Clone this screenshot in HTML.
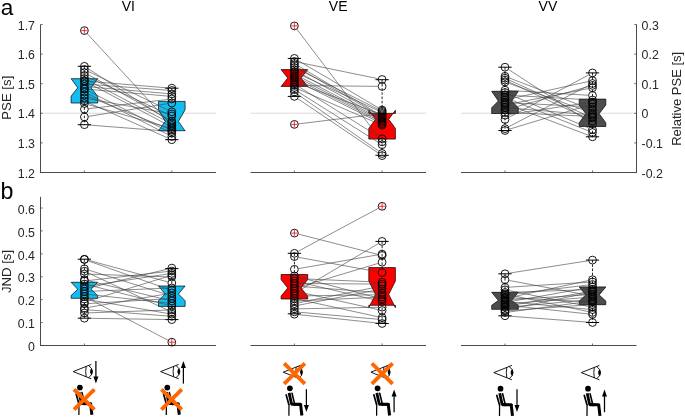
<!DOCTYPE html><html><head><meta charset="utf-8"><style>html,body{margin:0;padding:0;background:#fff;}svg{display:block;will-change:transform;}</style></head><body>
<svg width="685" height="417" viewBox="0 0 685 417" style="font-family:&quot;Liberation Sans&quot;,sans-serif">
<rect width="685" height="417" fill="#fff"/>
<line x1="40.5" y1="113.2" x2="216" y2="113.2" stroke="#dadada" stroke-width="1"/>
<line x1="250.5" y1="113.2" x2="426" y2="113.2" stroke="#dadada" stroke-width="1"/>
<line x1="461" y1="113.2" x2="636.5" y2="113.2" stroke="#dadada" stroke-width="1"/>
<line x1="40.5" y1="24.5" x2="40.5" y2="173" stroke="#4a4a4a" stroke-width="1"/><line x1="40.5" y1="172.5" x2="42.7" y2="172.5" stroke="#4a4a4a" stroke-width="0.8"/><text transform="translate(35.0,177.6) scale(0.93,1)" text-anchor="end" font-size="13.3" fill="#262626">1.2</text><line x1="40.5" y1="142.9" x2="42.7" y2="142.9" stroke="#4a4a4a" stroke-width="0.8"/><text transform="translate(35.0,148) scale(0.93,1)" text-anchor="end" font-size="13.3" fill="#262626">1.3</text><line x1="40.5" y1="113.3" x2="42.7" y2="113.3" stroke="#4a4a4a" stroke-width="0.8"/><text transform="translate(35.0,118.4) scale(0.93,1)" text-anchor="end" font-size="13.3" fill="#262626">1.4</text><line x1="40.5" y1="83.7" x2="42.7" y2="83.7" stroke="#4a4a4a" stroke-width="0.8"/><text transform="translate(35.0,88.8) scale(0.93,1)" text-anchor="end" font-size="13.3" fill="#262626">1.5</text><line x1="40.5" y1="54.1" x2="42.7" y2="54.1" stroke="#4a4a4a" stroke-width="0.8"/><text transform="translate(35.0,59.2) scale(0.93,1)" text-anchor="end" font-size="13.3" fill="#262626">1.6</text><line x1="40.5" y1="24.5" x2="42.7" y2="24.5" stroke="#4a4a4a" stroke-width="0.8"/><text transform="translate(35.0,29.6) scale(0.93,1)" text-anchor="end" font-size="13.3" fill="#262626">1.7</text><line x1="40.5" y1="172.5" x2="216" y2="172.5" stroke="#4a4a4a" stroke-width="1"/><line x1="84.4" y1="172.5" x2="84.4" y2="170.5" stroke="#4a4a4a" stroke-width="0.8"/><line x1="171.8" y1="172.5" x2="171.8" y2="170.5" stroke="#4a4a4a" stroke-width="0.8"/><line x1="250.5" y1="172.5" x2="426" y2="172.5" stroke="#4a4a4a" stroke-width="1"/><line x1="294.4" y1="172.5" x2="294.4" y2="170.5" stroke="#4a4a4a" stroke-width="0.8"/><line x1="382.1" y1="172.5" x2="382.1" y2="170.5" stroke="#4a4a4a" stroke-width="0.8"/><line x1="461" y1="172.5" x2="636.5" y2="172.5" stroke="#4a4a4a" stroke-width="1"/><line x1="505" y1="172.5" x2="505" y2="170.5" stroke="#4a4a4a" stroke-width="0.8"/><line x1="592.5" y1="172.5" x2="592.5" y2="170.5" stroke="#4a4a4a" stroke-width="0.8"/><line x1="636.5" y1="24.5" x2="636.5" y2="173" stroke="#4a4a4a" stroke-width="1"/><line x1="636.5" y1="172.5" x2="634.3" y2="172.5" stroke="#4a4a4a" stroke-width="0.8"/><text transform="translate(641.6,177.6) scale(0.93,1)" font-size="13.3" fill="#262626">-0.2</text><line x1="636.5" y1="142.9" x2="634.3" y2="142.9" stroke="#4a4a4a" stroke-width="0.8"/><text transform="translate(641.6,148) scale(0.93,1)" font-size="13.3" fill="#262626">-0.1</text><line x1="636.5" y1="113.3" x2="634.3" y2="113.3" stroke="#4a4a4a" stroke-width="0.8"/><text transform="translate(641.6,118.4) scale(0.93,1)" font-size="13.3" fill="#262626">0</text><line x1="636.5" y1="83.7" x2="634.3" y2="83.7" stroke="#4a4a4a" stroke-width="0.8"/><text transform="translate(641.6,88.8) scale(0.93,1)" font-size="13.3" fill="#262626">0.1</text><line x1="636.5" y1="54.1" x2="634.3" y2="54.1" stroke="#4a4a4a" stroke-width="0.8"/><text transform="translate(641.6,59.2) scale(0.93,1)" font-size="13.3" fill="#262626">0.2</text><line x1="636.5" y1="24.5" x2="634.3" y2="24.5" stroke="#4a4a4a" stroke-width="0.8"/><text transform="translate(641.6,29.6) scale(0.93,1)" font-size="13.3" fill="#262626">0.3</text>
<line x1="40.5" y1="196.8" x2="40.5" y2="346" stroke="#4a4a4a" stroke-width="1"/><line x1="40.5" y1="345.5" x2="42.7" y2="345.5" stroke="#4a4a4a" stroke-width="0.8"/><text transform="translate(35.0,351.2) scale(0.93,1)" text-anchor="end" font-size="13.3" fill="#262626">0</text><line x1="40.5" y1="322.58" x2="42.7" y2="322.58" stroke="#4a4a4a" stroke-width="0.8"/><text transform="translate(35.0,328.28) scale(0.93,1)" text-anchor="end" font-size="13.3" fill="#262626">0.1</text><line x1="40.5" y1="299.67" x2="42.7" y2="299.67" stroke="#4a4a4a" stroke-width="0.8"/><text transform="translate(35.0,305.37) scale(0.93,1)" text-anchor="end" font-size="13.3" fill="#262626">0.2</text><line x1="40.5" y1="276.75" x2="42.7" y2="276.75" stroke="#4a4a4a" stroke-width="0.8"/><text transform="translate(35.0,282.45) scale(0.93,1)" text-anchor="end" font-size="13.3" fill="#262626">0.3</text><line x1="40.5" y1="253.83" x2="42.7" y2="253.83" stroke="#4a4a4a" stroke-width="0.8"/><text transform="translate(35.0,259.53) scale(0.93,1)" text-anchor="end" font-size="13.3" fill="#262626">0.4</text><line x1="40.5" y1="230.92" x2="42.7" y2="230.92" stroke="#4a4a4a" stroke-width="0.8"/><text transform="translate(35.0,236.62) scale(0.93,1)" text-anchor="end" font-size="13.3" fill="#262626">0.5</text><line x1="40.5" y1="208" x2="42.7" y2="208" stroke="#4a4a4a" stroke-width="0.8"/><text transform="translate(35.0,213.7) scale(0.93,1)" text-anchor="end" font-size="13.3" fill="#262626">0.6</text><line x1="40.5" y1="345.5" x2="216" y2="345.5" stroke="#4a4a4a" stroke-width="1"/><line x1="84.4" y1="345.5" x2="84.4" y2="343.5" stroke="#4a4a4a" stroke-width="0.8"/><line x1="171.8" y1="345.5" x2="171.8" y2="343.5" stroke="#4a4a4a" stroke-width="0.8"/><line x1="250.5" y1="345.5" x2="426" y2="345.5" stroke="#4a4a4a" stroke-width="1"/><line x1="294.4" y1="345.5" x2="294.4" y2="343.5" stroke="#4a4a4a" stroke-width="0.8"/><line x1="382.1" y1="345.5" x2="382.1" y2="343.5" stroke="#4a4a4a" stroke-width="0.8"/><line x1="461" y1="345.5" x2="636.5" y2="345.5" stroke="#4a4a4a" stroke-width="1"/><line x1="505" y1="345.5" x2="505" y2="343.5" stroke="#4a4a4a" stroke-width="0.8"/><line x1="592.5" y1="345.5" x2="592.5" y2="343.5" stroke="#4a4a4a" stroke-width="0.8"/>
<polygon points="71.1,78.7 97.7,78.7 97.7,78.7 91.05,87.8 97.7,96.2 97.7,103 71.1,103 71.1,96.2 77.75,87.8 71.1,78.7" fill="#14bdf0" stroke="#000" stroke-width="0.7" stroke-linejoin="miter"/>
<polygon points="71.1,282.3 97.7,282.3 97.7,282.3 91.05,289.3 97.7,295.5 97.7,298.3 71.1,298.3 71.1,295.5 77.75,289.3 71.1,282.3" fill="#14bdf0" stroke="#000" stroke-width="0.7" stroke-linejoin="miter"/>
<polygon points="158.5,101.4 185.1,101.4 185.1,109.7 178.45,121.4 185.1,130.9 185.1,130.7 158.5,130.7 158.5,130.9 165.15,121.4 158.5,109.7" fill="#14bdf0" stroke="#000" stroke-width="0.7" stroke-linejoin="miter"/>
<polygon points="158.5,286 185.1,286 185.1,286 178.45,294 185.1,300.7 185.1,306.4 158.5,306.4 158.5,300.7 165.15,294 158.5,286" fill="#14bdf0" stroke="#000" stroke-width="0.7" stroke-linejoin="miter"/>
<polygon points="281.1,69.6 307.7,69.6 307.7,69.6 301.05,78.1 307.7,86.5 307.7,86.4 281.1,86.4 281.1,86.5 287.75,78.1 281.1,69.6" fill="#ff0000" stroke="#000" stroke-width="0.7" stroke-linejoin="miter"/>
<polygon points="281.1,274.5 307.7,274.5 307.7,279.6 301.05,288 307.7,296.1 307.7,299 281.1,299 281.1,296.1 287.75,288 281.1,279.6" fill="#ff0000" stroke="#000" stroke-width="0.7" stroke-linejoin="miter"/>
<polygon points="368.8,113.4 395.4,113.4 395.4,110.2 388.75,119.3 395.4,128.4 395.4,139.1 368.8,139.1 368.8,128.4 375.45,119.3 368.8,110.2" fill="#ff0000" stroke="#000" stroke-width="0.7" stroke-linejoin="miter"/>
<polygon points="368.8,267.6 395.4,267.6 395.4,281 388.75,294.4 395.4,307.7 395.4,305.3 368.8,305.3 368.8,307.7 375.45,294.4 368.8,281" fill="#ff0000" stroke="#000" stroke-width="0.7" stroke-linejoin="miter"/>
<polygon points="491.7,91.3 518.3,91.3 518.3,91.3 511.65,101 518.3,107.7 518.3,113.5 491.7,113.5 491.7,107.7 498.35,101 491.7,91.3" fill="#4d4d4d" stroke="#000" stroke-width="0.7" stroke-linejoin="miter"/>
<polygon points="491.7,292.3 518.3,292.3 518.3,292.3 511.65,300.5 518.3,305.3 518.3,309.3 491.7,309.3 491.7,305.3 498.35,300.5 491.7,292.3" fill="#4d4d4d" stroke="#000" stroke-width="0.7" stroke-linejoin="miter"/>
<polygon points="579.2,99.1 605.8,99.1 605.8,105 599.15,113.7 605.8,122.8 605.8,126.5 579.2,126.5 579.2,122.8 585.85,113.7 579.2,105" fill="#4d4d4d" stroke="#000" stroke-width="0.7" stroke-linejoin="miter"/>
<polygon points="579.2,286.9 605.8,286.9 605.8,287 599.15,294.9 605.8,301.1 605.8,304.7 579.2,304.7 579.2,301.1 585.85,294.9 579.2,287" fill="#4d4d4d" stroke="#000" stroke-width="0.7" stroke-linejoin="miter"/>
<line x1="84.4" y1="66.3" x2="84.4" y2="78.7" stroke="#000" stroke-width="0.85" stroke-dasharray="2.6,1.6"/><line x1="84.4" y1="103" x2="84.4" y2="124.7" stroke="#000" stroke-width="0.85" stroke-dasharray="2.6,1.6"/><line x1="77.75" y1="66.3" x2="91.05" y2="66.3" stroke="#000" stroke-width="1"/><line x1="77.75" y1="124.7" x2="91.05" y2="124.7" stroke="#000" stroke-width="1"/>
<line x1="84.4" y1="259.2" x2="84.4" y2="282.3" stroke="#000" stroke-width="0.85" stroke-dasharray="2.6,1.6"/><line x1="84.4" y1="298.3" x2="84.4" y2="318.2" stroke="#000" stroke-width="0.85" stroke-dasharray="2.6,1.6"/><line x1="77.75" y1="259.2" x2="91.05" y2="259.2" stroke="#000" stroke-width="1"/><line x1="77.75" y1="318.2" x2="91.05" y2="318.2" stroke="#000" stroke-width="1"/>
<line x1="171.8" y1="88.2" x2="171.8" y2="101.4" stroke="#000" stroke-width="0.85" stroke-dasharray="2.6,1.6"/><line x1="171.8" y1="130.9" x2="171.8" y2="139.7" stroke="#000" stroke-width="0.85" stroke-dasharray="2.6,1.6"/><line x1="165.15" y1="88.2" x2="178.45" y2="88.2" stroke="#000" stroke-width="1"/><line x1="165.15" y1="139.7" x2="178.45" y2="139.7" stroke="#000" stroke-width="1"/>
<line x1="171.8" y1="268.6" x2="171.8" y2="286" stroke="#000" stroke-width="0.85" stroke-dasharray="2.6,1.6"/><line x1="171.8" y1="306.4" x2="171.8" y2="319.6" stroke="#000" stroke-width="0.85" stroke-dasharray="2.6,1.6"/><line x1="165.15" y1="268.6" x2="178.45" y2="268.6" stroke="#000" stroke-width="1"/><line x1="165.15" y1="319.6" x2="178.45" y2="319.6" stroke="#000" stroke-width="1"/>
<line x1="294.4" y1="58.4" x2="294.4" y2="69.6" stroke="#000" stroke-width="0.85" stroke-dasharray="2.6,1.6"/><line x1="294.4" y1="86.5" x2="294.4" y2="96.4" stroke="#000" stroke-width="0.85" stroke-dasharray="2.6,1.6"/><line x1="287.75" y1="58.4" x2="301.05" y2="58.4" stroke="#000" stroke-width="1"/><line x1="287.75" y1="96.4" x2="301.05" y2="96.4" stroke="#000" stroke-width="1"/>
<line x1="294.4" y1="253.3" x2="294.4" y2="274.5" stroke="#000" stroke-width="0.85" stroke-dasharray="2.6,1.6"/><line x1="294.4" y1="299" x2="294.4" y2="313.8" stroke="#000" stroke-width="0.85" stroke-dasharray="2.6,1.6"/><line x1="287.75" y1="253.3" x2="301.05" y2="253.3" stroke="#000" stroke-width="1"/><line x1="287.75" y1="313.8" x2="301.05" y2="313.8" stroke="#000" stroke-width="1"/>
<line x1="382.1" y1="79.7" x2="382.1" y2="110.2" stroke="#000" stroke-width="0.85" stroke-dasharray="2.6,1.6"/><line x1="382.1" y1="139.1" x2="382.1" y2="155.3" stroke="#000" stroke-width="0.85" stroke-dasharray="2.6,1.6"/><line x1="375.45" y1="79.7" x2="388.75" y2="79.7" stroke="#000" stroke-width="1"/><line x1="375.45" y1="155.3" x2="388.75" y2="155.3" stroke="#000" stroke-width="1"/>
<line x1="382.1" y1="241.4" x2="382.1" y2="267.6" stroke="#000" stroke-width="0.85" stroke-dasharray="2.6,1.6"/><line x1="382.1" y1="307.7" x2="382.1" y2="323.5" stroke="#000" stroke-width="0.85" stroke-dasharray="2.6,1.6"/><line x1="375.45" y1="241.4" x2="388.75" y2="241.4" stroke="#000" stroke-width="1"/><line x1="375.45" y1="323.5" x2="388.75" y2="323.5" stroke="#000" stroke-width="1"/>
<line x1="505" y1="67.2" x2="505" y2="91.3" stroke="#000" stroke-width="0.85" stroke-dasharray="2.6,1.6"/><line x1="505" y1="113.5" x2="505" y2="130.5" stroke="#000" stroke-width="0.85" stroke-dasharray="2.6,1.6"/><line x1="498.35" y1="67.2" x2="511.65" y2="67.2" stroke="#000" stroke-width="1"/><line x1="498.35" y1="130.5" x2="511.65" y2="130.5" stroke="#000" stroke-width="1"/>
<line x1="505" y1="273.8" x2="505" y2="292.3" stroke="#000" stroke-width="0.85" stroke-dasharray="2.6,1.6"/><line x1="505" y1="309.3" x2="505" y2="315.8" stroke="#000" stroke-width="0.85" stroke-dasharray="2.6,1.6"/><line x1="498.35" y1="273.8" x2="511.65" y2="273.8" stroke="#000" stroke-width="1"/><line x1="498.35" y1="315.8" x2="511.65" y2="315.8" stroke="#000" stroke-width="1"/>
<line x1="592.5" y1="72.9" x2="592.5" y2="99.1" stroke="#000" stroke-width="0.85" stroke-dasharray="2.6,1.6"/><line x1="592.5" y1="126.5" x2="592.5" y2="136.8" stroke="#000" stroke-width="0.85" stroke-dasharray="2.6,1.6"/><line x1="585.85" y1="72.9" x2="599.15" y2="72.9" stroke="#000" stroke-width="1"/><line x1="585.85" y1="136.8" x2="599.15" y2="136.8" stroke="#000" stroke-width="1"/>
<line x1="592.5" y1="260.1" x2="592.5" y2="286.9" stroke="#000" stroke-width="0.85" stroke-dasharray="2.6,1.6"/><line x1="592.5" y1="304.7" x2="592.5" y2="322.5" stroke="#000" stroke-width="0.85" stroke-dasharray="2.6,1.6"/><line x1="585.85" y1="260.1" x2="599.15" y2="260.1" stroke="#000" stroke-width="1"/><line x1="585.85" y1="322.5" x2="599.15" y2="322.5" stroke="#000" stroke-width="1"/>
<g stroke="#404040" stroke-width="0.6" fill="none">
<line x1="87.31" y1="33.76" x2="168.89" y2="122.34"/><line x1="88.02" y1="68.63" x2="168.18" y2="120.17"/><line x1="88.27" y1="71.37" x2="167.93" y2="109.93"/><line x1="88.16" y1="74.59" x2="168.04" y2="118.91"/><line x1="88.3" y1="77.31" x2="167.9" y2="114.19"/><line x1="88.21" y1="80.49" x2="167.99" y2="122.01"/><line x1="88.69" y1="81.35" x2="167.51" y2="87.85"/><line x1="88.21" y1="83" x2="167.99" y2="125"/><line x1="88.69" y1="84.32" x2="167.51" y2="90.18"/><line x1="88.68" y1="86.86" x2="167.52" y2="93.54"/><line x1="88.68" y1="89.36" x2="167.52" y2="96.04"/><line x1="88.24" y1="90.94" x2="167.96" y2="131.26"/><line x1="88.23" y1="93.95" x2="167.97" y2="134.55"/><line x1="88.39" y1="96.6" x2="167.81" y2="128.4"/><line x1="88.63" y1="98.77" x2="167.57" y2="113.23"/><line x1="88.33" y1="102.74" x2="167.87" y2="137.96"/><line x1="88.53" y1="104.68" x2="167.67" y2="127.32"/><line x1="88.67" y1="108.7" x2="167.53" y2="99.5"/><line x1="88.65" y1="116.32" x2="167.55" y2="103.68"/><line x1="88.69" y1="125.03" x2="167.51" y2="131.17"/>
<line x1="88.55" y1="260.33" x2="167.65" y2="281.87"/><line x1="88.45" y1="260.94" x2="167.75" y2="289.06"/><line x1="88.51" y1="270.08" x2="167.69" y2="294.72"/><line x1="88.3" y1="273.02" x2="167.9" y2="310.18"/><line x1="88.7" y1="274.15" x2="167.5" y2="276.85"/><line x1="88.58" y1="280.81" x2="167.62" y2="299.99"/><line x1="88.67" y1="280.51" x2="167.53" y2="271.49"/><line x1="88.57" y1="285.05" x2="167.63" y2="304.95"/><line x1="88.65" y1="285.86" x2="167.55" y2="274.04"/><line x1="88.58" y1="288" x2="167.62" y2="269.1"/><line x1="88.7" y1="291.33" x2="167.5" y2="288.17"/><line x1="88.67" y1="294.46" x2="167.53" y2="303.04"/><line x1="88.21" y1="298.49" x2="167.99" y2="340.21"/><line x1="88.64" y1="299.74" x2="167.56" y2="313.46"/><line x1="88.51" y1="300.74" x2="167.69" y2="276.56"/><line x1="88.69" y1="303.54" x2="167.51" y2="298.76"/><line x1="88.64" y1="307.37" x2="167.56" y2="293.73"/><line x1="88.69" y1="309.93" x2="167.51" y2="315.97"/><line x1="88.7" y1="312.85" x2="167.5" y2="310.05"/><line x1="88.7" y1="318.27" x2="167.5" y2="319.53"/>
<line x1="296.99" y1="29.33" x2="379.51" y2="138.37"/><line x1="298.67" y1="123.87" x2="377.83" y2="114.13"/><line x1="298.11" y1="60.58" x2="378.39" y2="107.82"/><line x1="298.61" y1="62.36" x2="377.89" y2="78.64"/><line x1="298.09" y1="65.71" x2="378.41" y2="113.79"/><line x1="298.1" y1="67.68" x2="378.4" y2="115.02"/><line x1="298.25" y1="69.42" x2="378.25" y2="109.28"/><line x1="298.16" y1="72.08" x2="378.34" y2="116.32"/><line x1="298.31" y1="73.8" x2="378.19" y2="110.6"/><line x1="298.22" y1="75.98" x2="378.28" y2="117.62"/><line x1="298.23" y1="77.96" x2="378.27" y2="119.04"/><line x1="298.24" y1="79.94" x2="378.26" y2="120.46"/><line x1="298.25" y1="81.92" x2="378.25" y2="121.88"/><line x1="298.43" y1="83.51" x2="378.07" y2="113.29"/><line x1="298.05" y1="86.28" x2="378.45" y2="136.52"/><line x1="298.7" y1="85.54" x2="377.8" y2="86.36"/><line x1="298.35" y1="89.2" x2="378.15" y2="123.5"/><line x1="298.04" y1="91.79" x2="378.46" y2="142.41"/><line x1="297.92" y1="94.47" x2="378.58" y2="151.03"/><line x1="297.96" y1="98.81" x2="378.54" y2="153.19"/>
<line x1="298.57" y1="234.16" x2="377.93" y2="254.44"/><line x1="298.19" y1="251.27" x2="378.31" y2="208.33"/><line x1="298.63" y1="257.37" x2="377.87" y2="271.83"/><line x1="298.64" y1="268.57" x2="377.86" y2="254.83"/><line x1="298.56" y1="277.09" x2="377.94" y2="297.91"/><line x1="298.7" y1="278.68" x2="377.8" y2="282.02"/><line x1="298.59" y1="281.98" x2="377.91" y2="300.52"/><line x1="298.7" y1="283.53" x2="377.8" y2="284.07"/><line x1="298.69" y1="286.33" x2="377.81" y2="292.47"/><line x1="298.52" y1="287.26" x2="377.98" y2="263.44"/><line x1="298.6" y1="291.93" x2="377.9" y2="309.57"/><line x1="298.1" y1="291.3" x2="378.4" y2="243.6"/><line x1="298.7" y1="295.94" x2="377.8" y2="294.76"/><line x1="298.6" y1="299.42" x2="377.9" y2="316.78"/><line x1="298.7" y1="300.81" x2="377.8" y2="297.29"/><line x1="298.62" y1="302.75" x2="377.88" y2="286.85"/><line x1="298.62" y1="305.18" x2="377.88" y2="289.82"/><line x1="298.7" y1="308.82" x2="377.8" y2="307.28"/><line x1="298.68" y1="312.18" x2="377.82" y2="319.22"/><line x1="298.68" y1="314.65" x2="377.82" y2="323.05"/>
<line x1="508.61" y1="69.54" x2="588.89" y2="121.66"/><line x1="509.01" y1="77.85" x2="588.49" y2="108.45"/><line x1="508.91" y1="79.98" x2="588.59" y2="116.22"/><line x1="508.9" y1="81.92" x2="588.6" y2="119.18"/><line x1="509.05" y1="83.44" x2="588.45" y2="111.56"/><line x1="509.29" y1="90.46" x2="588.21" y2="95.24"/><line x1="508.96" y1="94.18" x2="588.54" y2="127.92"/><line x1="509.29" y1="95.25" x2="588.21" y2="99.75"/><line x1="508.99" y1="99.1" x2="588.51" y2="130.9"/><line x1="509.2" y1="99.07" x2="588.3" y2="81.53"/><line x1="509.29" y1="102.72" x2="588.21" y2="106.78"/><line x1="509.02" y1="105.03" x2="588.48" y2="135.27"/><line x1="509.22" y1="104.17" x2="588.28" y2="88.63"/><line x1="509.28" y1="107.87" x2="588.22" y2="114.63"/><line x1="509.14" y1="108.84" x2="588.36" y2="86.56"/><line x1="509.3" y1="112.7" x2="588.2" y2="116.3"/><line x1="509.25" y1="114.56" x2="588.25" y2="102.64"/><line x1="508.8" y1="117.48" x2="588.7" y2="74.92"/><line x1="508.82" y1="126.63" x2="588.68" y2="85.47"/><line x1="509.12" y1="129.25" x2="588.38" y2="105.25"/>
<line x1="509.25" y1="273.13" x2="588.25" y2="260.77"/><line x1="509.23" y1="280.49" x2="588.27" y2="295.21"/><line x1="509.29" y1="287.14" x2="588.21" y2="282.26"/><line x1="509.22" y1="290.64" x2="588.28" y2="306.36"/><line x1="509.3" y1="292.35" x2="588.2" y2="289.65"/><line x1="509.21" y1="294.89" x2="588.29" y2="311.61"/><line x1="509.27" y1="294.49" x2="588.23" y2="285.01"/><line x1="509.29" y1="297.72" x2="588.21" y2="301.78"/><line x1="509.2" y1="297.6" x2="588.3" y2="280.6"/><line x1="509.29" y1="299.73" x2="588.21" y2="294.77"/><line x1="509.28" y1="301.9" x2="588.22" y2="309.2"/><line x1="509.23" y1="301.75" x2="588.27" y2="287.75"/><line x1="509.29" y1="303.66" x2="588.21" y2="297.34"/><line x1="509.28" y1="305.46" x2="588.22" y2="313.94"/><line x1="509.23" y1="305.75" x2="588.27" y2="291.75"/><line x1="509.28" y1="307.11" x2="588.22" y2="299.89"/><line x1="509.21" y1="309.13" x2="588.29" y2="292.87"/><line x1="509.29" y1="310.68" x2="588.21" y2="304.82"/><line x1="509.26" y1="311.94" x2="588.24" y2="301.56"/><line x1="509.29" y1="316.13" x2="588.21" y2="322.17"/>
</g>
<g stroke="#000" stroke-width="0.9" fill="none">
<circle cx="84.4" cy="30.6" r="3.9"/><circle cx="84.4" cy="66.3" r="3.9"/><circle cx="84.4" cy="69.5" r="3.9"/><circle cx="84.4" cy="72.5" r="3.9"/><circle cx="84.4" cy="75.5" r="3.9"/><circle cx="84.4" cy="78.5" r="3.9"/><circle cx="84.4" cy="81" r="3.9"/><circle cx="84.4" cy="81" r="3.9"/><circle cx="84.4" cy="84" r="3.9"/><circle cx="84.4" cy="86.5" r="3.9"/><circle cx="84.4" cy="89" r="3.9"/><circle cx="84.4" cy="89" r="3.9"/><circle cx="84.4" cy="92" r="3.9"/><circle cx="84.4" cy="95" r="3.9"/><circle cx="84.4" cy="98" r="3.9"/><circle cx="84.4" cy="101" r="3.9"/><circle cx="84.4" cy="103.5" r="3.9"/><circle cx="84.4" cy="109.2" r="3.9"/><circle cx="84.4" cy="117" r="3.9"/><circle cx="84.4" cy="124.7" r="3.9"/>
<circle cx="171.8" cy="125.5" r="3.9"/><circle cx="171.8" cy="122.5" r="3.9"/><circle cx="171.8" cy="111.8" r="3.9"/><circle cx="171.8" cy="121" r="3.9"/><circle cx="171.8" cy="116" r="3.9"/><circle cx="171.8" cy="124" r="3.9"/><circle cx="171.8" cy="88.2" r="3.9"/><circle cx="171.8" cy="127" r="3.9"/><circle cx="171.8" cy="90.5" r="3.9"/><circle cx="171.8" cy="93.9" r="3.9"/><circle cx="171.8" cy="96.4" r="3.9"/><circle cx="171.8" cy="133.2" r="3.9"/><circle cx="171.8" cy="136.5" r="3.9"/><circle cx="171.8" cy="130" r="3.9"/><circle cx="171.8" cy="114" r="3.9"/><circle cx="171.8" cy="139.7" r="3.9"/><circle cx="171.8" cy="128.5" r="3.9"/><circle cx="171.8" cy="99" r="3.9"/><circle cx="171.8" cy="103" r="3.9"/><circle cx="171.8" cy="131.5" r="3.9"/>
<circle cx="84.4" cy="259.2" r="3.9"/><circle cx="84.4" cy="259.5" r="3.9"/><circle cx="84.4" cy="268.8" r="3.9"/><circle cx="84.4" cy="271.2" r="3.9"/><circle cx="84.4" cy="274" r="3.9"/><circle cx="84.4" cy="279.8" r="3.9"/><circle cx="84.4" cy="281" r="3.9"/><circle cx="84.4" cy="284" r="3.9"/><circle cx="84.4" cy="286.5" r="3.9"/><circle cx="84.4" cy="289" r="3.9"/><circle cx="84.4" cy="291.5" r="3.9"/><circle cx="84.4" cy="294" r="3.9"/><circle cx="84.4" cy="296.5" r="3.9"/><circle cx="84.4" cy="299" r="3.9"/><circle cx="84.4" cy="302" r="3.9"/><circle cx="84.4" cy="303.8" r="3.9"/><circle cx="84.4" cy="308.1" r="3.9"/><circle cx="84.4" cy="309.6" r="3.9"/><circle cx="84.4" cy="313" r="3.9"/><circle cx="84.4" cy="318.2" r="3.9"/>
<circle cx="171.8" cy="283" r="3.9"/><circle cx="171.8" cy="290.5" r="3.9"/><circle cx="171.8" cy="296" r="3.9"/><circle cx="171.8" cy="312" r="3.9"/><circle cx="171.8" cy="277" r="3.9"/><circle cx="171.8" cy="301" r="3.9"/><circle cx="171.8" cy="271" r="3.9"/><circle cx="171.8" cy="306" r="3.9"/><circle cx="171.8" cy="273.4" r="3.9"/><circle cx="171.8" cy="268.1" r="3.9"/><circle cx="171.8" cy="288" r="3.9"/><circle cx="171.8" cy="303.5" r="3.9"/><circle cx="171.8" cy="342.2" r="3.9"/><circle cx="171.8" cy="314.2" r="3.9"/><circle cx="171.8" cy="275.3" r="3.9"/><circle cx="171.8" cy="298.5" r="3.9"/><circle cx="171.8" cy="293" r="3.9"/><circle cx="171.8" cy="316.3" r="3.9"/><circle cx="171.8" cy="309.9" r="3.9"/><circle cx="171.8" cy="319.6" r="3.9"/>
<circle cx="294.4" cy="25.9" r="3.9"/><circle cx="294.4" cy="124.4" r="3.9"/><circle cx="294.4" cy="58.4" r="3.9"/><circle cx="294.4" cy="61.5" r="3.9"/><circle cx="294.4" cy="63.5" r="3.9"/><circle cx="294.4" cy="65.5" r="3.9"/><circle cx="294.4" cy="67.5" r="3.9"/><circle cx="294.4" cy="70" r="3.9"/><circle cx="294.4" cy="72" r="3.9"/><circle cx="294.4" cy="74" r="3.9"/><circle cx="294.4" cy="76" r="3.9"/><circle cx="294.4" cy="78" r="3.9"/><circle cx="294.4" cy="80" r="3.9"/><circle cx="294.4" cy="82" r="3.9"/><circle cx="294.4" cy="84" r="3.9"/><circle cx="294.4" cy="85.5" r="3.9"/><circle cx="294.4" cy="87.5" r="3.9"/><circle cx="294.4" cy="89.5" r="3.9"/><circle cx="294.4" cy="92" r="3.9"/><circle cx="294.4" cy="96.4" r="3.9"/>
<circle cx="382.1" cy="141.8" r="3.9"/><circle cx="382.1" cy="113.6" r="3.9"/><circle cx="382.1" cy="110" r="3.9"/><circle cx="382.1" cy="79.5" r="3.9"/><circle cx="382.1" cy="116" r="3.9"/><circle cx="382.1" cy="117.2" r="3.9"/><circle cx="382.1" cy="111.2" r="3.9"/><circle cx="382.1" cy="118.4" r="3.9"/><circle cx="382.1" cy="112.4" r="3.9"/><circle cx="382.1" cy="119.6" r="3.9"/><circle cx="382.1" cy="121" r="3.9"/><circle cx="382.1" cy="122.4" r="3.9"/><circle cx="382.1" cy="123.8" r="3.9"/><circle cx="382.1" cy="114.8" r="3.9"/><circle cx="382.1" cy="138.8" r="3.9"/><circle cx="382.1" cy="86.4" r="3.9"/><circle cx="382.1" cy="125.2" r="3.9"/><circle cx="382.1" cy="144.7" r="3.9"/><circle cx="382.1" cy="153.5" r="3.9"/><circle cx="382.1" cy="155.6" r="3.9"/>
<circle cx="294.4" cy="233.1" r="3.9"/><circle cx="294.4" cy="253.3" r="3.9"/><circle cx="294.4" cy="256.6" r="3.9"/><circle cx="294.4" cy="269.3" r="3.9"/><circle cx="294.4" cy="276" r="3.9"/><circle cx="294.4" cy="278.5" r="3.9"/><circle cx="294.4" cy="281" r="3.9"/><circle cx="294.4" cy="283.5" r="3.9"/><circle cx="294.4" cy="286" r="3.9"/><circle cx="294.4" cy="288.5" r="3.9"/><circle cx="294.4" cy="291" r="3.9"/><circle cx="294.4" cy="293.5" r="3.9"/><circle cx="294.4" cy="296" r="3.9"/><circle cx="294.4" cy="298.5" r="3.9"/><circle cx="294.4" cy="301" r="3.9"/><circle cx="294.4" cy="303.6" r="3.9"/><circle cx="294.4" cy="306" r="3.9"/><circle cx="294.4" cy="308.9" r="3.9"/><circle cx="294.4" cy="311.8" r="3.9"/><circle cx="294.4" cy="314.2" r="3.9"/>
<circle cx="382.1" cy="255.5" r="3.9"/><circle cx="382.1" cy="206.3" r="3.9"/><circle cx="382.1" cy="272.6" r="3.9"/><circle cx="382.1" cy="254.1" r="3.9"/><circle cx="382.1" cy="299" r="3.9"/><circle cx="382.1" cy="282.2" r="3.9"/><circle cx="382.1" cy="301.5" r="3.9"/><circle cx="382.1" cy="284.1" r="3.9"/><circle cx="382.1" cy="292.8" r="3.9"/><circle cx="382.1" cy="262.2" r="3.9"/><circle cx="382.1" cy="310.5" r="3.9"/><circle cx="382.1" cy="241.4" r="3.9"/><circle cx="382.1" cy="294.7" r="3.9"/><circle cx="382.1" cy="317.7" r="3.9"/><circle cx="382.1" cy="297.1" r="3.9"/><circle cx="382.1" cy="286" r="3.9"/><circle cx="382.1" cy="289" r="3.9"/><circle cx="382.1" cy="307.2" r="3.9"/><circle cx="382.1" cy="319.6" r="3.9"/><circle cx="382.1" cy="323.5" r="3.9"/>
<circle cx="505" cy="67.2" r="3.9"/><circle cx="505" cy="76.3" r="3.9"/><circle cx="505" cy="78.2" r="3.9"/><circle cx="505" cy="80.1" r="3.9"/><circle cx="505" cy="82" r="3.9"/><circle cx="505" cy="90.2" r="3.9"/><circle cx="505" cy="92.5" r="3.9"/><circle cx="505" cy="95" r="3.9"/><circle cx="505" cy="97.5" r="3.9"/><circle cx="505" cy="100" r="3.9"/><circle cx="505" cy="102.5" r="3.9"/><circle cx="505" cy="103.5" r="3.9"/><circle cx="505" cy="105" r="3.9"/><circle cx="505" cy="107.5" r="3.9"/><circle cx="505" cy="110" r="3.9"/><circle cx="505" cy="112.5" r="3.9"/><circle cx="505" cy="115.2" r="3.9"/><circle cx="505" cy="119.5" r="3.9"/><circle cx="505" cy="128.6" r="3.9"/><circle cx="505" cy="130.5" r="3.9"/>
<circle cx="592.5" cy="124" r="3.9"/><circle cx="592.5" cy="110" r="3.9"/><circle cx="592.5" cy="118" r="3.9"/><circle cx="592.5" cy="121" r="3.9"/><circle cx="592.5" cy="113" r="3.9"/><circle cx="592.5" cy="95.5" r="3.9"/><circle cx="592.5" cy="129.6" r="3.9"/><circle cx="592.5" cy="100" r="3.9"/><circle cx="592.5" cy="132.5" r="3.9"/><circle cx="592.5" cy="80.6" r="3.9"/><circle cx="592.5" cy="107" r="3.9"/><circle cx="592.5" cy="136.8" r="3.9"/><circle cx="592.5" cy="87.8" r="3.9"/><circle cx="592.5" cy="115" r="3.9"/><circle cx="592.5" cy="85.4" r="3.9"/><circle cx="592.5" cy="116.5" r="3.9"/><circle cx="592.5" cy="102" r="3.9"/><circle cx="592.5" cy="72.9" r="3.9"/><circle cx="592.5" cy="83.5" r="3.9"/><circle cx="592.5" cy="104" r="3.9"/>
<circle cx="505" cy="273.8" r="3.9"/><circle cx="505" cy="279.7" r="3.9"/><circle cx="505" cy="287.4" r="3.9"/><circle cx="505" cy="289.8" r="3.9"/><circle cx="505" cy="292.5" r="3.9"/><circle cx="505" cy="294" r="3.9"/><circle cx="505" cy="295" r="3.9"/><circle cx="505" cy="297.5" r="3.9"/><circle cx="505" cy="298.5" r="3.9"/><circle cx="505" cy="300" r="3.9"/><circle cx="505" cy="301.5" r="3.9"/><circle cx="505" cy="302.5" r="3.9"/><circle cx="505" cy="304" r="3.9"/><circle cx="505" cy="305" r="3.9"/><circle cx="505" cy="306.5" r="3.9"/><circle cx="505" cy="307.5" r="3.9"/><circle cx="505" cy="310" r="3.9"/><circle cx="505" cy="311" r="3.9"/><circle cx="505" cy="312.5" r="3.9"/><circle cx="505" cy="315.8" r="3.9"/>
<circle cx="592.5" cy="260.1" r="3.9"/><circle cx="592.5" cy="296" r="3.9"/><circle cx="592.5" cy="282" r="3.9"/><circle cx="592.5" cy="307.2" r="3.9"/><circle cx="592.5" cy="289.5" r="3.9"/><circle cx="592.5" cy="312.5" r="3.9"/><circle cx="592.5" cy="284.5" r="3.9"/><circle cx="592.5" cy="302" r="3.9"/><circle cx="592.5" cy="279.7" r="3.9"/><circle cx="592.5" cy="294.5" r="3.9"/><circle cx="592.5" cy="309.6" r="3.9"/><circle cx="592.5" cy="287" r="3.9"/><circle cx="592.5" cy="297" r="3.9"/><circle cx="592.5" cy="314.4" r="3.9"/><circle cx="592.5" cy="291" r="3.9"/><circle cx="592.5" cy="299.5" r="3.9"/><circle cx="592.5" cy="292" r="3.9"/><circle cx="592.5" cy="304.5" r="3.9"/><circle cx="592.5" cy="301" r="3.9"/><circle cx="592.5" cy="322.5" r="3.9"/>
</g>
<g stroke="#f00" stroke-width="0.8">
<line x1="81.2" y1="30.6" x2="87.6" y2="30.6"/><line x1="84.4" y1="27.4" x2="84.4" y2="33.8"/>
<line x1="168.6" y1="342.2" x2="175" y2="342.2"/><line x1="171.8" y1="339" x2="171.8" y2="345.4"/>
<line x1="291.2" y1="25.9" x2="297.6" y2="25.9"/><line x1="294.4" y1="22.7" x2="294.4" y2="29.1"/>
<line x1="291.2" y1="124.4" x2="297.6" y2="124.4"/><line x1="294.4" y1="121.2" x2="294.4" y2="127.6"/>
<line x1="291.2" y1="233.1" x2="297.6" y2="233.1"/><line x1="294.4" y1="229.9" x2="294.4" y2="236.3"/>
<line x1="378.9" y1="206.3" x2="385.3" y2="206.3"/><line x1="382.1" y1="203.1" x2="382.1" y2="209.5"/>
</g>
<text x="128.3" y="11.2" text-anchor="middle" font-size="14" fill="#000">VI</text>
<text x="338.2" y="11.2" text-anchor="middle" font-size="14" fill="#000">VE</text>
<text x="547.9" y="11.2" text-anchor="middle" font-size="14" fill="#000">VV</text>
<text x="0.7" y="15.4" font-size="22.6" fill="#000">a</text>
<text x="0.4" y="198.6" font-size="23.2" fill="#000">b</text>
<text transform="translate(10.5,97.7) rotate(-90)" text-anchor="middle" font-size="13.2" fill="#262626">PSE [s]</text>
<text transform="translate(10.5,271.5) rotate(-90)" text-anchor="middle" font-size="13.2" fill="#262626">JND [s]</text>
<text transform="translate(681.0,98.8) rotate(-90)" text-anchor="middle" font-size="13" fill="#262626">Relative PSE [s]</text>
<g fill="none" stroke="#000" stroke-width="0.9"><path d="M91.3 364.4 L73.2 371.6 L91.3 378.8"/><path d="M86.2 366.3 Q85.2 371.6 86.2 376.9"/><path d="M88.5 365.4 Q96.5 371.6 88.5 377.8"/></g><path d="M91.7 367.9 Q88.3 371.6 91.7 375.3 Q93.3 371.6 91.7 367.9 Z" fill="#000"/>
<g><circle cx="79.9" cy="387.6" r="2.85" fill="#000"/><line x1="76" y1="393.6" x2="79" y2="404.2" stroke="#000" stroke-width="1.7" stroke-linecap="butt"/><line x1="79.1" y1="392.2" x2="81.6" y2="403.6" stroke="#000" stroke-width="2.8" stroke-linecap="butt"/><line x1="82" y1="392.6" x2="84.9" y2="404.4" stroke="#000" stroke-width="1.6" stroke-linecap="round"/><line x1="79" y1="403.8" x2="78.9" y2="415" stroke="#000" stroke-width="1.25" stroke-linecap="butt"/><line x1="82.1" y1="403.5" x2="90.5" y2="403.7" stroke="#000" stroke-width="3.1" stroke-linecap="round"/><line x1="90.5" y1="403" x2="91.9" y2="414.8" stroke="#000" stroke-width="3.0" stroke-linecap="butt"/></g>
<line x1="95.9" y1="361" x2="95.9" y2="377.8" stroke="#000" stroke-width="1.25"/><polygon points="95.9,383.4 93.4,376.4 98.4,376.4" fill="#000"/>
<g stroke="#ff6600" stroke-width="3.8" stroke-linecap="butt"><line x1="74" y1="389.3" x2="94.4" y2="409.6"/><line x1="94.4" y1="389.3" x2="74" y2="409.6"/></g>
<g fill="none" stroke="#000" stroke-width="0.9"><path d="M178.7 364.4 L160.6 371.6 L178.7 378.8"/><path d="M173.6 366.3 Q172.6 371.6 173.6 376.9"/><path d="M175.9 365.4 Q183.9 371.6 175.9 377.8"/></g><path d="M179.1 367.9 Q175.7 371.6 179.1 375.3 Q180.7 371.6 179.1 367.9 Z" fill="#000"/>
<g><circle cx="167.3" cy="387.6" r="2.85" fill="#000"/><line x1="163.4" y1="393.6" x2="166.4" y2="404.2" stroke="#000" stroke-width="1.7" stroke-linecap="butt"/><line x1="166.5" y1="392.2" x2="169" y2="403.6" stroke="#000" stroke-width="2.8" stroke-linecap="butt"/><line x1="169.4" y1="392.6" x2="172.3" y2="404.4" stroke="#000" stroke-width="1.6" stroke-linecap="round"/><line x1="166.4" y1="403.8" x2="166.3" y2="415" stroke="#000" stroke-width="1.25" stroke-linecap="butt"/><line x1="169.5" y1="403.5" x2="177.9" y2="403.7" stroke="#000" stroke-width="3.1" stroke-linecap="round"/><line x1="177.9" y1="403" x2="179.3" y2="414.8" stroke="#000" stroke-width="3.0" stroke-linecap="butt"/></g>
<line x1="183.4" y1="383.6" x2="183.4" y2="366.6" stroke="#000" stroke-width="1.25"/><polygon points="183.4,361 180.9,368 185.9,368" fill="#000"/>
<g stroke="#ff6600" stroke-width="3.8" stroke-linecap="butt"><line x1="161.4" y1="389.3" x2="181.8" y2="409.6"/><line x1="181.8" y1="389.3" x2="161.4" y2="409.6"/></g>
<g fill="none" stroke="#000" stroke-width="0.9"><path d="M301.3 365 L283.2 372.2 L301.3 379.4"/><path d="M296.2 366.9 Q295.2 372.2 296.2 377.5"/><path d="M298.5 366 Q306.5 372.2 298.5 378.4"/></g><path d="M301.7 368.5 Q298.3 372.2 301.7 375.9 Q303.3 372.2 301.7 368.5 Z" fill="#000"/>
<g><circle cx="289.9" cy="388.3" r="2.85" fill="#000"/><line x1="286" y1="394.3" x2="289" y2="404.9" stroke="#000" stroke-width="1.7" stroke-linecap="butt"/><line x1="289.1" y1="392.9" x2="291.6" y2="404.3" stroke="#000" stroke-width="2.8" stroke-linecap="butt"/><line x1="292" y1="393.3" x2="294.9" y2="405.1" stroke="#000" stroke-width="1.6" stroke-linecap="round"/><line x1="289" y1="404.5" x2="288.9" y2="415.7" stroke="#000" stroke-width="1.25" stroke-linecap="butt"/><line x1="292.1" y1="404.2" x2="300.5" y2="404.4" stroke="#000" stroke-width="3.1" stroke-linecap="round"/><line x1="300.5" y1="403.7" x2="301.9" y2="415.5" stroke="#000" stroke-width="3.0" stroke-linecap="butt"/></g>
<line x1="306.4" y1="389.2" x2="306.4" y2="406.3" stroke="#000" stroke-width="1.25"/><polygon points="306.4,411.9 303.9,404.9 308.9,404.9" fill="#000"/>
<g stroke="#ff6600" stroke-width="3.8" stroke-linecap="butt"><line x1="284.1" y1="363.4" x2="304.9" y2="383.8"/><line x1="304.9" y1="363.4" x2="284.1" y2="383.8"/></g>
<g fill="none" stroke="#000" stroke-width="0.9"><path d="M389 365 L370.9 372.2 L389 379.4"/><path d="M383.9 366.9 Q382.9 372.2 383.9 377.5"/><path d="M386.2 366 Q394.2 372.2 386.2 378.4"/></g><path d="M389.4 368.5 Q386 372.2 389.4 375.9 Q391 372.2 389.4 368.5 Z" fill="#000"/>
<g><circle cx="377.6" cy="388.3" r="2.85" fill="#000"/><line x1="373.7" y1="394.3" x2="376.7" y2="404.9" stroke="#000" stroke-width="1.7" stroke-linecap="butt"/><line x1="376.8" y1="392.9" x2="379.3" y2="404.3" stroke="#000" stroke-width="2.8" stroke-linecap="butt"/><line x1="379.7" y1="393.3" x2="382.6" y2="405.1" stroke="#000" stroke-width="1.6" stroke-linecap="round"/><line x1="376.7" y1="404.5" x2="376.6" y2="415.7" stroke="#000" stroke-width="1.25" stroke-linecap="butt"/><line x1="379.8" y1="404.2" x2="388.2" y2="404.4" stroke="#000" stroke-width="3.1" stroke-linecap="round"/><line x1="388.2" y1="403.7" x2="389.6" y2="415.5" stroke="#000" stroke-width="3.0" stroke-linecap="butt"/></g>
<line x1="394.1" y1="412.2" x2="394.1" y2="395.2" stroke="#000" stroke-width="1.25"/><polygon points="394.1,389.6 391.6,396.6 396.6,396.6" fill="#000"/>
<g stroke="#ff6600" stroke-width="3.8" stroke-linecap="butt"><line x1="371.8" y1="363.4" x2="392.6" y2="383.8"/><line x1="392.6" y1="363.4" x2="371.8" y2="383.8"/></g>
<g fill="none" stroke="#000" stroke-width="0.9"><path d="M511.9 365.4 L493.8 372.6 L511.9 379.8"/><path d="M506.8 367.3 Q505.8 372.6 506.8 377.9"/><path d="M509.1 366.4 Q517.1 372.6 509.1 378.8"/></g><path d="M512.3 368.9 Q508.9 372.6 512.3 376.3 Q513.9 372.6 512.3 368.9 Z" fill="#000"/>
<g><circle cx="500.5" cy="388.7" r="2.85" fill="#000"/><line x1="496.6" y1="394.7" x2="499.6" y2="405.3" stroke="#000" stroke-width="1.7" stroke-linecap="butt"/><line x1="499.7" y1="393.3" x2="502.2" y2="404.7" stroke="#000" stroke-width="2.8" stroke-linecap="butt"/><line x1="502.6" y1="393.7" x2="505.5" y2="405.5" stroke="#000" stroke-width="1.6" stroke-linecap="round"/><line x1="499.6" y1="404.9" x2="499.5" y2="416.1" stroke="#000" stroke-width="1.25" stroke-linecap="butt"/><line x1="502.7" y1="404.6" x2="511.1" y2="404.8" stroke="#000" stroke-width="3.1" stroke-linecap="round"/><line x1="511.1" y1="404.1" x2="512.5" y2="415.9" stroke="#000" stroke-width="3.0" stroke-linecap="butt"/></g>
<line x1="517" y1="389.2" x2="517" y2="406.3" stroke="#000" stroke-width="1.25"/><polygon points="517,411.9 514.5,404.9 519.5,404.9" fill="#000"/>
<g fill="none" stroke="#000" stroke-width="0.9"><path d="M599.4 365.4 L581.3 372.6 L599.4 379.8"/><path d="M594.3 367.3 Q593.3 372.6 594.3 377.9"/><path d="M596.6 366.4 Q604.6 372.6 596.6 378.8"/></g><path d="M599.8 368.9 Q596.4 372.6 599.8 376.3 Q601.4 372.6 599.8 368.9 Z" fill="#000"/>
<g><circle cx="588" cy="388.7" r="2.85" fill="#000"/><line x1="584.1" y1="394.7" x2="587.1" y2="405.3" stroke="#000" stroke-width="1.7" stroke-linecap="butt"/><line x1="587.2" y1="393.3" x2="589.7" y2="404.7" stroke="#000" stroke-width="2.8" stroke-linecap="butt"/><line x1="590.1" y1="393.7" x2="593" y2="405.5" stroke="#000" stroke-width="1.6" stroke-linecap="round"/><line x1="587.1" y1="404.9" x2="587" y2="416.1" stroke="#000" stroke-width="1.25" stroke-linecap="butt"/><line x1="590.2" y1="404.6" x2="598.6" y2="404.8" stroke="#000" stroke-width="3.1" stroke-linecap="round"/><line x1="598.6" y1="404.1" x2="600" y2="415.9" stroke="#000" stroke-width="3.0" stroke-linecap="butt"/></g>
<line x1="604.5" y1="412.2" x2="604.5" y2="395.2" stroke="#000" stroke-width="1.25"/><polygon points="604.5,389.6 602,396.6 607,396.6" fill="#000"/>
</svg></body></html>
